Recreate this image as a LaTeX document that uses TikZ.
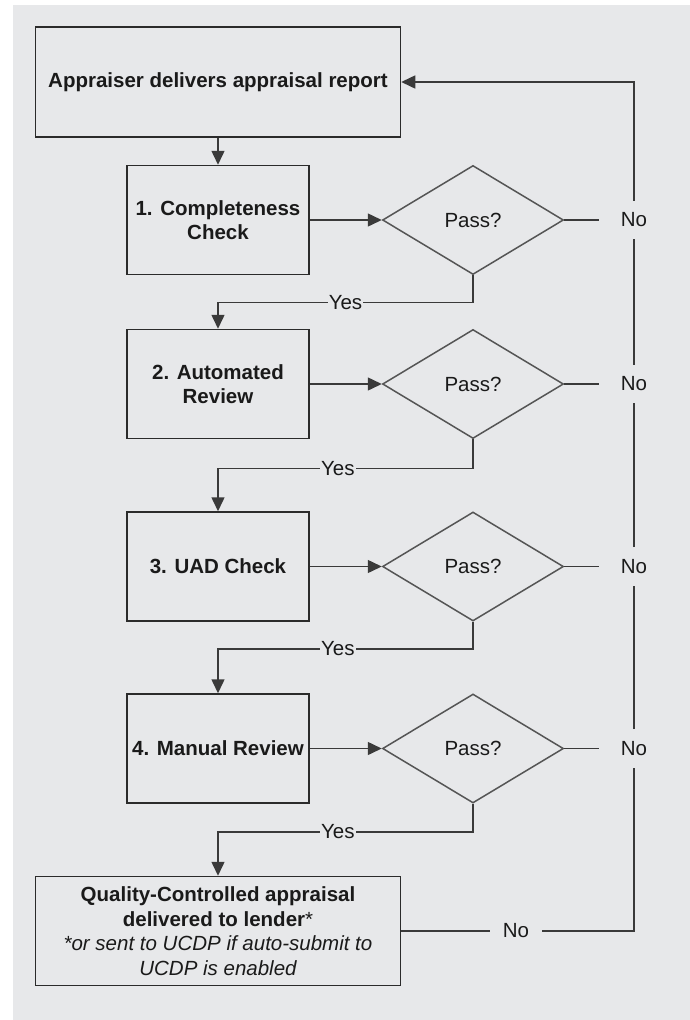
\documentclass[tikz,border=0pt]{standalone}
\usepackage{fontspec}
\setmainfont{Liberation Sans}
\usetikzlibrary{shapes.geometric,arrows.meta}
\definecolor{bggrey}{HTML}{E7E8EA}
\definecolor{boxline}{HTML}{2B2B2B}
\definecolor{flowline}{HTML}{3A3A3A}
\definecolor{diamline}{HTML}{555555}
\definecolor{txt}{HTML}{1A1A1A}

\begin{document}
\begin{tikzpicture}[x=1pt, y=-1pt, >={Triangle[length=14pt,width=13pt]},
  font=\fontsize{20.5}{24.5}\selectfont, text=txt,
  stepbox/.style={draw=boxline, line width=1.5pt, rectangle, minimum width=182pt, minimum height=109pt, align=center, font=\fontsize{20.5}{24.5}\selectfont\bfseries},
  passdiamond/.style={draw=diamline, line width=1.5pt, diamond, minimum width=181pt, minimum height=109pt, inner sep=0pt},
  nolabel/.style={inner xsep=22pt, inner ysep=12pt},
  yeslabel/.style={fill=bggrey, inner sep=1pt},
  flow/.style={draw=flowline, line width=1.5pt}]

\fill[white] (0,0) rectangle (690,1020);
\fill[bggrey] (13,5) rectangle (690,1020);

\node[stepbox, minimum width=365pt, minimum height=110pt] (report) at (218,82) {Appraiser delivers appraisal report};
\node[stepbox] (chk1) at (218,220) {1. Completeness\\Check};
\node[stepbox] (chk2) at (218,384) {2. Automated\\Review};
\node[stepbox] (chk3) at (218,566.5) {3. UAD Check};
\node[stepbox] (chk4) at (218,748.5) {4. Manual Review};
\node[stepbox, minimum width=365pt] (final) at (218,931) {Quality-Controlled appraisal\\delivered to lender\textmd{*}\\{\mdseries\itshape *or sent to UCDP if auto-submit to}\\{\mdseries\itshape UCDP is enabled}};

\node[passdiamond] (pass1) at (473,220) {Pass?};
\node[passdiamond] (pass2) at (473,384) {Pass?};
\node[passdiamond] (pass3) at (473,566.5) {Pass?};
\node[passdiamond] (pass4) at (473,748.5) {Pass?};

\node[nolabel] (no1) at (634,220) {No};
\node[nolabel] (no2) at (634,384) {No};
\node[nolabel] (no3) at (634,566.5) {No};
\node[nolabel] (no4) at (634,748.5) {No};
\node[inner xsep=13pt] (noend) at (516,931) {No};

\draw[flow, ->] (report) -- (chk1);
\draw[flow, ->] (chk1) -- (pass1);
\draw[flow, ->] (chk2) -- (pass2);
\draw[flow, ->] (chk3) -- (pass3);
\draw[flow, ->] (chk4) -- (pass4);

\draw[flow, ->] (pass1.south) -- ++(0,27) -| node[yeslabel, pos=0.25] {Yes} (chk2.north);
\draw[flow, ->] (pass2.south) -- ++(0,29) -| node[yeslabel, pos=0.265] {Yes} (chk3.north);
\draw[flow, ->] (pass3.south) -- ++(0,27) -| node[yeslabel, pos=0.265] {Yes} (chk4.north);
\draw[flow, ->] (pass4.south) -- ++(0,28) -| node[yeslabel, pos=0.265] {Yes} (final.north);

\draw[flow] (pass1) -- (no1);
\draw[flow] (pass2) -- (no2);
\draw[flow] (pass3) -- (no3);
\draw[flow] (pass4) -- (no4);
\draw[flow] (final) -- (noend);
\draw[flow] (noend) -| (no4);
\draw[flow] (no4) -- (no3);
\draw[flow] (no3) -- (no2);
\draw[flow] (no2) -- (no1);
\draw[flow, ->] (no1) |- (report);
\end{tikzpicture}
\end{document}
